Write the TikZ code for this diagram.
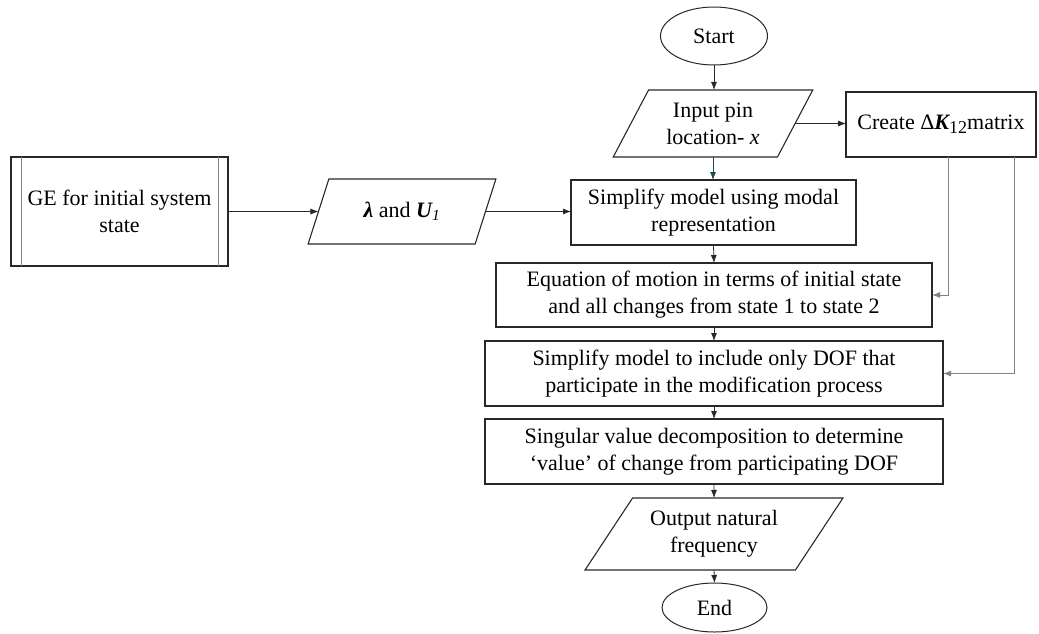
\documentclass[tikz,border=0pt]{standalone}
\usepackage{fontspec}
\setmainfont{Liberation Serif}
\usetikzlibrary{shapes.geometric,arrows.meta}
\definecolor{linec}{RGB}{40,40,40}
\definecolor{tealc}{RGB}{30,75,75}
\definecolor{grayc}{RGB}{130,130,130}
\tikzset{
  every node/.style={font=\fontsize{22}{27}\selectfont, text=black, inner sep=0pt, outer sep=0pt},
  box/.style={draw=linec, line width=1.1pt, rectangle, align=center},
  para/.style={draw=linec, line width=1.1pt, trapezium, trapezium stretches=true, align=center},
  term/.style={draw=linec, line width=1pt, ellipse, align=center},
  conn/.style={draw=linec, line width=0.8pt, -{Latex[length=8pt,width=6pt]}},
  gconn/.style={draw=grayc, line width=1pt, -{Latex[length=8pt,width=6pt]}}
}
\begin{document}
\begin{tikzpicture}[x=1pt,y=-1pt]
\useasboundingbox (0,0) rectangle (1039,633);
\node[term, minimum width=107pt, minimum height=58pt] (start) at (714,36) {Start};
\node[para, trapezium left angle=58.5, trapezium right angle=121.5, minimum width=200pt, minimum height=67pt] (inp) at (713,123.5) {Input pin\\location- \textit{x}};
\node[box, minimum width=190pt, minimum height=65pt] (create) at (941,124.5) {Create Δ{\bfseries\itshape K}\raisebox{-0.4ex}{\fontsize{18}{18}\selectfont 12}matrix};
\node[box, minimum width=285pt, minimum height=65pt] (simp) at (713.5,212.5) {Simplify model using modal\\representation};
\node[para, trapezium left angle=59.7, trapezium right angle=120.3, minimum width=189pt, minimum height=65pt] (lam) at (402,211.5) {{\bfseries\itshape λ} and {\bfseries\itshape U}\textsubscript{\itshape 1}};
\node[box, minimum width=217pt, minimum height=109pt] (ge) at (119.5,211.5) {GE for initial system\\state};
\draw[grayc, line width=1pt] ([xshift=10pt]ge.north west) -- ([xshift=10pt]ge.south west);
\draw[grayc, line width=1pt] ([xshift=-10pt]ge.north east) -- ([xshift=-10pt]ge.south east);
\node[box, minimum width=436pt, minimum height=64pt] (eq) at (714,295) {Equation of motion in terms of initial state\\and all changes from state 1 to state 2};
\node[box, minimum width=458pt, minimum height=65pt] (dof) at (714,373.5) {Simplify model to include only DOF that\\participate in the modification process};
\node[box, minimum width=458pt, minimum height=65pt] (svd) at (714,451.5) {Singular value decomposition to determine\\‘value’ of change from participating DOF};
\node[para, trapezium left angle=51.6, trapezium right angle=128.4, minimum width=258pt, minimum height=72pt] (out) at (714,534) {Output natural\\frequency};
\node[term, minimum width=105pt, minimum height=49pt] (end) at (714.5,607.5) {End};

\draw[conn] (start.south) -- (start.south |- inp.north);
\draw[conn, draw=tealc] (inp.south) -- (inp.south |- simp.north);
\draw[conn] (inp.east) -- (create.west |- inp.east);
\draw[conn] (ge.east) -- (lam.west);
\draw[conn] (lam.east) -- (simp.west |- lam.east);
\draw[conn] (simp.south) -- (eq.north);
\draw[conn] (eq.south) -- (dof.north);
\draw[conn] (dof.south) -- (svd.north);
\draw[conn] (svd.south) -- (out.north);
\draw[conn] (out.south) -- (end.north);
\draw[gconn] ([xshift=7pt]create.south) |- (eq.east);
\draw[gconn] ([xshift=73pt]create.south) |- (dof.east);
\end{tikzpicture}
\end{document}
